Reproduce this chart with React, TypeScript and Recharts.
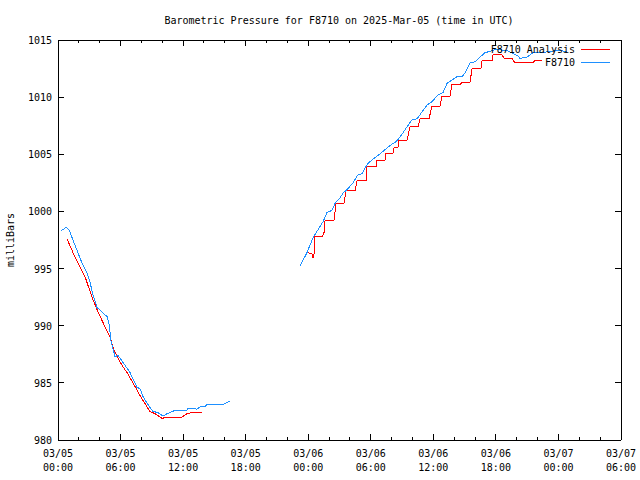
import React from "react";
import { LineChart, Line, XAxis, YAxis } from "recharts";

const FONT = "'DejaVu Sans Mono', 'Liberation Mono', monospace";
const RED = "#ff0000";
const BLUE = "#1e90ff";

const chartTitle = "Barometric Pressure for F8710 on 2025-Mar-05 (time in UTC)";
const yAxisLabel = "milliBars";
const legendNames = ["F8710 Analysis", "F8710"];

// hours since 2025-03-05 00:00 UTC
const obsTimes1 = [0.29, 0.77, 1.06, 1.44, 1.82, 2.3, 2.78, 3.07, 3.36, 3.74, 4.22, 4.7, 4.89, 5.08, 5.47, 5.75, 6.23, 6.91, 7.58, 7.86, 8.15, 8.63, 9.11, 9.59, 10.07, 10.45, 10.74, 11.22, 12.37, 12.47, 13.33, 13.62, 14.1, 14.29, 15.83, 16.5];
const obsValues1 = [998.3, 998.6, 998.4, 997.5, 996.6, 995.5, 994.6, 993.8, 992.7, 991.6, 991.2, 990.8, 990.2, 988.7, 987.3, 987.4, 986.8, 985.9, 984.6, 984.5, 983.8, 983.1, 982.5, 982.4, 982.1, 982.3, 982.4, 982.6, 982.6, 982.8, 982.7, 982.9, 982.9, 983.1, 983.1, 983.4];

const obsTimes2 = [23.21, 23.88, 24.46, 24.94, 25.42, 25.8, 26.28, 26.57, 27.05, 27.34, 27.82, 28.29, 28.77, 29.16, 29.45, 29.73, 30.12, 30.69, 31.36, 32.03, 32.42, 32.8, 33.47, 33.95, 34.43, 34.91, 35.39, 35.87, 36.45, 36.93, 37.31, 37.79, 38.27, 38.75, 39.04, 39.52, 40.0, 40.48, 40.96, 41.44, 42.11, 42.68, 43.07, 43.64, 44.12, 44.31, 44.98, 45.56, 46.52, 47.86, 48.82];
const obsValues2 = [995.2, 996.4, 997.7, 998.4, 999.1, 999.9, 1000.1, 1000.7, 1001.2, 1001.6, 1002.0, 1002.5, 1003.2, 1003.3, 1003.8, 1004.2, 1004.5, 1004.9, 1005.4, 1005.9, 1006.1, 1006.5, 1007.4, 1008.0, 1008.1, 1008.7, 1009.3, 1009.6, 1010.2, 1010.4, 1011.2, 1011.5, 1011.8, 1011.8, 1012.1, 1013.0, 1013.1, 1013.5, 1013.9, 1014.0, 1014.2, 1014.1, 1014.1, 1013.8, 1013.6, 1013.4, 1013.5, 1013.9, 1013.9, 1014.1, 1014.0];

const anaTimes1 = [0.86, 1.63, 2.59, 3.26, 3.84, 4.51, 4.99, 5.28, 5.66, 6.23, 6.62, 7.19, 7.86, 8.54, 8.82, 9.3, 9.98, 10.55, 11.89, 12.37, 12.85, 13.81];
const anaValues1 = [997.6, 996.0, 994.3, 992.5, 991.2, 989.9, 989.0, 988.1, 987.3, 986.4, 985.9, 985.0, 983.9, 982.9, 982.5, 982.3, 981.9, 982.0, 982.0, 982.3, 982.4, 982.4];

const anaTimes2 = [23.88, 24.36, 24.46, 24.65, 24.65, 25.32, 25.51, 25.61, 26.47, 26.67, 27.43, 27.63, 28.49, 28.68, 29.55, 29.64, 30.5, 30.6, 31.36, 31.46, 32.13, 32.23, 32.61, 32.7, 33.47, 33.76, 34.53, 34.72, 35.58, 35.87, 36.64, 36.83, 37.6, 37.79, 38.56, 38.75, 39.52, 39.71, 40.57, 40.67, 41.63, 41.72, 42.58, 42.78, 43.54, 43.83, 45.56, 45.75, 46.42];
const anaValues2 = [996.4, 996.3, 995.9, 996.6, 997.8, 997.8, 998.1, 999.2, 999.2, 1000.7, 1000.7, 1001.8, 1001.8, 1002.7, 1002.7, 1003.9, 1003.9, 1004.5, 1004.5, 1005.1, 1005.1, 1005.6, 1005.6, 1006.2, 1006.2, 1007.4, 1007.4, 1008.1, 1008.1, 1009.2, 1009.2, 1010.1, 1010.1, 1011.1, 1011.1, 1011.3, 1011.3, 1012.5, 1012.5, 1013.2, 1013.2, 1013.7, 1013.7, 1013.4, 1013.4, 1013.0, 1013.0, 1013.2, 1013.2];

const xTicks = [0, 2, 4, 6, 8, 10, 12, 14, 16, 18, 20, 22, 24, 26, 28, 30, 32, 34, 36, 38, 40, 42, 44, 46, 48, 50, 52, 54];
const xMajorTicks = [0, 6, 12, 18, 24, 30, 36, 42, 48, 54];
const xTickDates = ["03/05", "03/05", "03/05", "03/05", "03/06", "03/06", "03/06", "03/06", "03/07", "03/07"];
const xTickTimes = ["00:00", "06:00", "12:00", "18:00", "00:00", "06:00", "12:00", "18:00", "00:00", "06:00"];
const yTicks = [980, 985, 990, 995, 1000, 1005, 1010, 1015];

const toData = (ts: number[], vs: number[]) => ts.map((t, i) => ({ t, v: vs[i] }));
const obs1 = toData(obsTimes1, obsValues1);
const obs2 = toData(obsTimes2, obsValues2);
const ana1 = toData(anaTimes1, anaValues1);
const ana2 = toData(anaTimes2, anaValues2);

const BottomTick = (props: any) => {
  const { x, y, payload } = props;
  const idx = xMajorTicks.indexOf(payload.value);
  const major = idx >= 0;
  return (
    <g>
      <line x1={x} y1={y} x2={x} y2={y - (major ? 6 : 3)} stroke="#000" shapeRendering="crispEdges" />
      {major && (
        <text x={x} y={y + 17} textAnchor="middle" fontFamily={FONT} fontSize={10} fill="#000">
          {xTickDates[idx]}
        </text>
      )}
      {major && (
        <text x={x} y={y + 31} textAnchor="middle" fontFamily={FONT} fontSize={10} fill="#000">
          {xTickTimes[idx]}
        </text>
      )}
    </g>
  );
};

const TopTick = (props: any) => {
  const { x, y, payload } = props;
  const major = xMajorTicks.indexOf(payload.value) >= 0;
  return <line x1={x} y1={y} x2={x} y2={y + (major ? 6 : 3)} stroke="#000" shapeRendering="crispEdges" />;
};

const LeftTick = (props: any) => {
  const { x, y, payload } = props;
  return (
    <g>
      <line x1={x} y1={y} x2={x + 6} y2={y} stroke="#000" shapeRendering="crispEdges" />
      <text x={x - 6} y={y + 4} textAnchor="end" fontFamily={FONT} fontSize={10} fill="#000">
        {payload.value}
      </text>
    </g>
  );
};

const RightTick = (props: any) => {
  const { x, y } = props;
  return <line x1={x} y1={y} x2={x - 6} y2={y} stroke="#000" shapeRendering="crispEdges" />;
};

export default function App() {
  return (
    <div style={{ position: "absolute", left: 0, top: 0, width: 640, height: 480, background: "#fff" }}>
      <LineChart width={640} height={480} margin={{ top: 0, right: 0, bottom: 0, left: 0 }}>
        <XAxis
          xAxisId="b"
          type="number"
          dataKey="t"
          domain={[0, 54]}
          ticks={xTicks}
          interval={0}
          height={40}
          tickSize={0}
          tickMargin={0}
          tickLine={false}
          axisLine={{ stroke: "#000", shapeRendering: "crispEdges" }}
          tick={<BottomTick />}
          allowDataOverflow
        />
        <XAxis
          xAxisId="t"
          orientation="top"
          type="number"
          dataKey="t"
          domain={[0, 54]}
          ticks={xTicks}
          interval={0}
          height={40}
          tickSize={0}
          tickMargin={0}
          tickLine={false}
          axisLine={{ stroke: "#000", shapeRendering: "crispEdges" }}
          tick={<TopTick />}
          allowDataOverflow
        />
        <YAxis
          yAxisId="l"
          type="number"
          domain={[980, 1015]}
          ticks={yTicks}
          interval={0}
          width={58}
          tickSize={0}
          tickMargin={0}
          tickLine={false}
          axisLine={{ stroke: "#000", shapeRendering: "crispEdges" }}
          tick={<LeftTick />}
          allowDataOverflow
        />
        <YAxis
          yAxisId="r"
          orientation="right"
          type="number"
          domain={[980, 1015]}
          ticks={yTicks}
          interval={0}
          width={19}
          tickSize={0}
          tickMargin={0}
          tickLine={false}
          axisLine={{ stroke: "#000", shapeRendering: "crispEdges" }}
          tick={<RightTick />}
          allowDataOverflow
        />
        <Line xAxisId="b" yAxisId="l" data={ana1} dataKey="v" stroke={RED} strokeWidth={1} dot={false} isAnimationActive={false} type="linear" shapeRendering="crispEdges" />
        <Line xAxisId="b" yAxisId="l" data={ana2} dataKey="v" stroke={RED} strokeWidth={1} dot={false} isAnimationActive={false} type="linear" shapeRendering="crispEdges" />
        <Line xAxisId="b" yAxisId="l" data={obs1} dataKey="v" stroke={BLUE} strokeWidth={1} dot={false} isAnimationActive={false} type="linear" shapeRendering="crispEdges" />
        <Line xAxisId="b" yAxisId="l" data={obs2} dataKey="v" stroke={BLUE} strokeWidth={1} dot={false} isAnimationActive={false} type="linear" shapeRendering="crispEdges" />
      </LineChart>
      <svg width={640} height={480} style={{ position: "absolute", left: 0, top: 0, pointerEvents: "none" }}>
        <text x={339} y={24} textAnchor="middle" fontFamily={FONT} fontSize={10} fill="#000">
          {chartTitle}
        </text>
        <text x={14} y={240} textAnchor="middle" fontFamily={FONT} fontSize={10} fill="#000" transform="rotate(-90 14 240)">
          {yAxisLabel}
        </text>
        <text x={575} y={53} textAnchor="end" fontFamily={FONT} fontSize={10} fill="#000">
          {legendNames[0]}
        </text>
        <line x1={581} y1={49} x2={610} y2={49} stroke={RED} shapeRendering="crispEdges" />
        <text x={575} y={66} textAnchor="end" fontFamily={FONT} fontSize={10} fill="#000">
          {legendNames[1]}
        </text>
        <line x1={581} y1={62} x2={610} y2={62} stroke={BLUE} shapeRendering="crispEdges" />
      </svg>
    </div>
  );
}
